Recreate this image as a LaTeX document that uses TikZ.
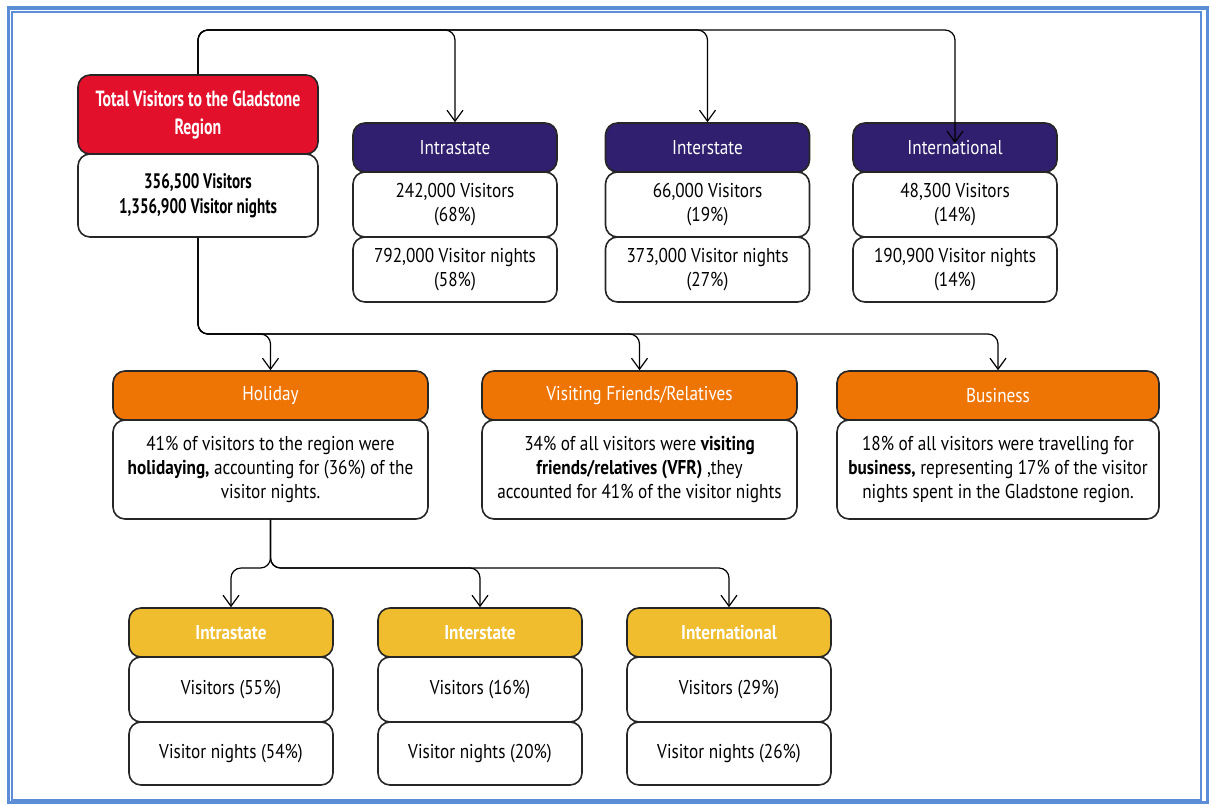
\documentclass[tikz,border=0pt]{standalone}
\usepackage{fontspec}
\setmainfont{PT Sans}[FakeStretch=0.86]
\newfontfamily\gothic{PT Sans}[FakeStretch=0.72]
\usepackage{tikz}
\usetikzlibrary{arrows.meta}

\definecolor{frameblue}{RGB}{91,142,214}
\definecolor{totalred}{RGB}{227,16,43}
\definecolor{originpurple}{RGB}{47,31,110}
\definecolor{purposeorange}{RGB}{238,116,4}
\definecolor{holiyellow}{RGB}{240,189,46}

\begin{document}
\begin{tikzpicture}[x=5pt,y=5pt,>={Straight Barb[length=5.5pt,width=8pt]}]
 	\tikzstyle{every node}+=[inner sep=1pt]
 	\tikzstyle{hdr}=[draw=black!85, line width=0.8pt, rounded corners=6pt, text=white, minimum height=24.5pt, align=center]
 	\tikzstyle{cell}=[draw=black!85, line width=0.8pt, rounded corners=6pt, fill=white, align=center]
 	\tikzstyle{link}=[->, line width=0.6pt, rounded corners=5pt]
 	\useasboundingbox (0,0) rectangle (121,-80.4);
 	% frame
 	\draw [frameblue, line width=1.75pt] (0.83,-0.78) rectangle (120.76,-80.27);
 	\draw [frameblue, line width=1pt] (1.22,-1.15) rectangle (120.1,-79.95);
 	% total
 	\node [hdr, fill=totalred, minimum width=120pt, minimum height=39.5pt, font=\gothic\bfseries\fontsize{11}{14}\selectfont] (total) at (19.8,-11.45) {Total Visitors to the Gladstone\\Region};
 	\node [cell, minimum width=120pt, minimum height=41.5pt, font=\gothic\bfseries\fontsize{10.5}{12.5}\selectfont] (totalbody) at (19.8,-19.55) {356,500 Visitors\\1,356,900 Visitor nights};
 	% origin of visitors
 	\node [hdr, fill=originpurple, minimum width=102pt] (intra) at (45.5,-14.75) {Intrastate};
 	\node [cell, minimum width=102pt, minimum height=32.5pt] (intrav) at (45.5,-20.45) {242,000 Visitors\\(68\%)};
 	\node [cell, minimum width=102pt, minimum height=32.5pt] (intran) at (45.5,-26.95) {792,000 Visitor nights\\(58\%)};
 	\node [hdr, fill=originpurple, minimum width=102pt] (inter) at (70.75,-14.75) {Interstate};
 	\node [cell, minimum width=102pt, minimum height=32.5pt] (interv) at (70.75,-20.45) {66,000 Visitors\\(19\%)};
 	\node [cell, minimum width=102pt, minimum height=32.5pt] (intern) at (70.75,-26.95) {373,000 Visitor nights\\(27\%)};
 	\node [hdr, fill=originpurple, minimum width=102pt] (intl) at (95.5,-14.75) {International};
 	\node [cell, minimum width=102pt, minimum height=32.5pt] (intlv) at (95.5,-20.45) {48,300 Visitors\\(14\%)};
 	\node [cell, minimum width=102pt, minimum height=32.5pt] (intln) at (95.5,-26.95) {190,900 Visitor nights\\(14\%)};
 	% purpose of visit
 	\node [hdr, fill=purposeorange, minimum width=157.5pt] (holi) at (27.05,-39.55) {Holiday};
 	\node [cell, minimum width=157.5pt, minimum height=49.5pt] (holibody) at (27.05,-46.95) {41\% of visitors to the region were\\\textbf{holidaying,} accounting for (36\%) of the\\visitor nights.};
 	\node [hdr, fill=purposeorange, minimum width=157.5pt] (vfr) at (63.95,-39.55) {Visiting Friends/Relatives};
 	\node [cell, minimum width=157.5pt, minimum height=49.5pt] (vfrbody) at (63.95,-46.95) {34\% of all visitors were \textbf{visiting}\\\textbf{friends/relatives (VFR)} ,they\\accounted for 41\% of the visitor nights};
 	\node [hdr, fill=purposeorange, minimum width=161pt] (bus) at (99.8,-39.55) {Business};
 	\node [cell, minimum width=161pt, minimum height=49.5pt] (busbody) at (99.8,-46.95) {18\% of all visitors were travelling for\\\textbf{business,} representing 17\% of the visitor\\nights spent in the Gladstone region.};
 	% holiday split
 	\node [hdr, fill=holiyellow, minimum width=102pt, font=\bfseries] (yintra) at (23.1,-63.25) {Intrastate};
 	\node [cell, minimum width=102pt, minimum height=32.5pt] (yintrav) at (23.1,-68.95) {Visitors (55\%)};
 	\node [cell, minimum width=102pt, minimum height=31.5pt] (yintran) at (23.1,-75.35) {Visitor nights (54\%)};
 	\node [hdr, fill=holiyellow, minimum width=102pt, font=\bfseries] (yinter) at (48.0,-63.25) {Interstate};
 	\node [cell, minimum width=102pt, minimum height=32.5pt] (yinterv) at (48.0,-68.95) {Visitors (16\%)};
 	\node [cell, minimum width=102pt, minimum height=31.5pt] (yintern) at (48.0,-75.35) {Visitor nights (20\%)};
 	\node [hdr, fill=holiyellow, minimum width=102pt, font=\bfseries] (yintl) at (72.9,-63.25) {International};
 	\node [cell, minimum width=102pt, minimum height=32.5pt] (yintlv) at (72.9,-68.95) {Visitors (29\%)};
 	\node [cell, minimum width=102pt, minimum height=31.5pt] (yintln) at (72.9,-75.35) {Visitor nights (26\%)};
 	% connectors
 	\coordinate (topbus) at (0,-3.0);
 	\coordinate (midbus) at (0,-33.4);
 	\coordinate (lowbus) at (0,-56.8);
 	\coordinate (intlend) at (95.5,-14.3);
 	\draw [link] (total.north) |- (topbus -| intra.north) -- (intra.north);
 	\draw [link] (total.north) |- (topbus -| inter.north) -- (inter.north);
 	\draw [link] (total.north) |- (topbus -| intl.north) -- (intlend);
 	\draw [link] (totalbody.south) |- (midbus -| holi.north) -- (holi.north);
 	\draw [link] (totalbody.south) |- (midbus -| vfr.north) -- (vfr.north);
 	\draw [link] (totalbody.south) |- (midbus -| bus.north) -- (bus.north);
 	\draw [link] (holibody.south) |- (lowbus -| yintra.north) -- (yintra.north);
 	\draw [link] (holibody.south) |- (lowbus -| yinter.north) -- (yinter.north);
 	\draw [link] (holibody.south) |- (lowbus -| yintl.north) -- (yintl.north);
\end{tikzpicture}
\end{document}
